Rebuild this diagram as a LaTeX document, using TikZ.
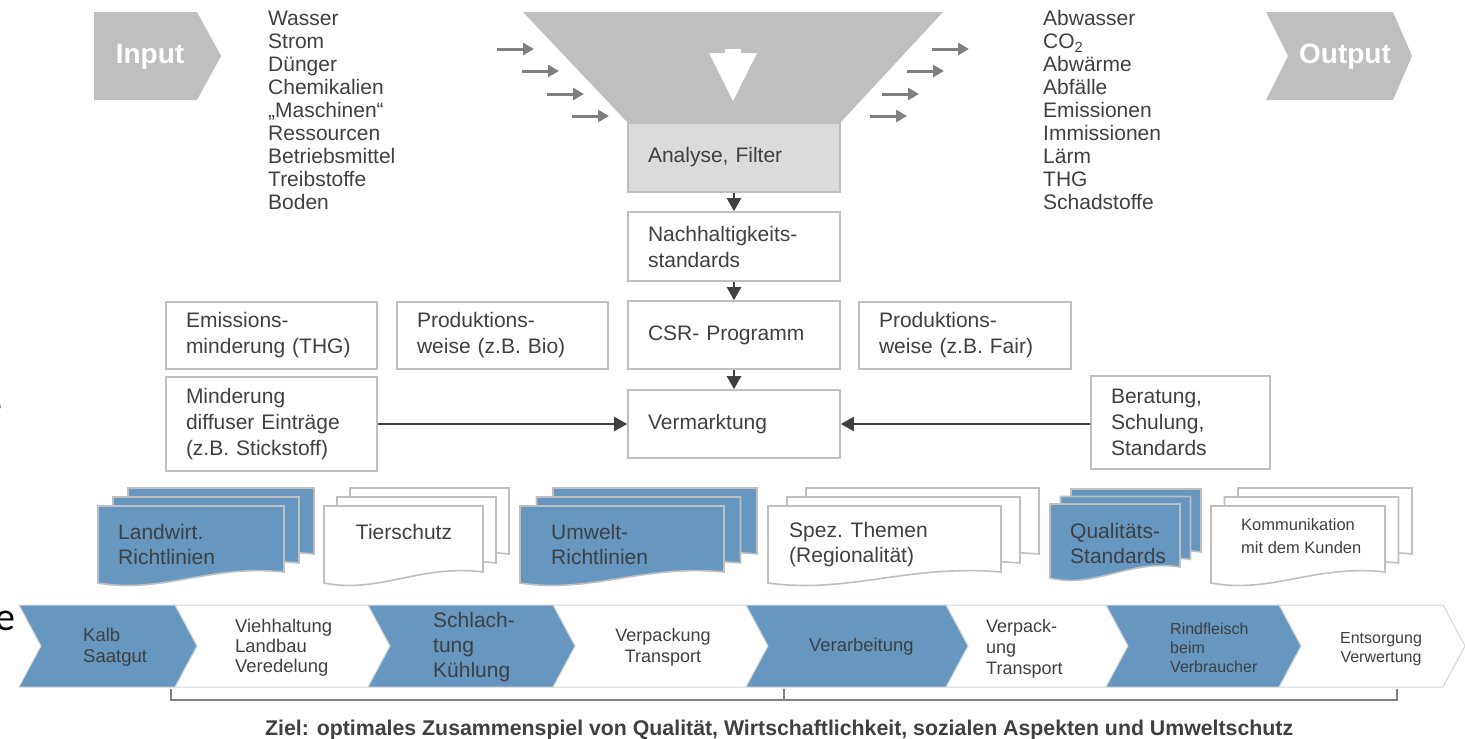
\documentclass[tikz,border=0pt]{standalone}
\usepackage{fontspec}
\setmainfont{Liberation Sans}
\newfontfamily\carl{Carlito}
\usetikzlibrary{arrows.meta}
\definecolor{txt}{HTML}{404040}
\definecolor{boxline}{HTML}{BFBFBF}
\definecolor{funnelgray}{HTML}{BFBFBF}
\definecolor{anafill}{HTML}{DBDBDB}
\definecolor{blu}{HTML}{6597C1}
\definecolor{darkarr}{HTML}{404040}
\definecolor{lightarr}{HTML}{808080}
\definecolor{chevline}{HTML}{D6D6D6}
\newcommand\myfs[2]{\fontsize{#1}{#2}\selectfont}
\newcommand\docshape[5]{\path[#5] (#1,#2) -- ({#1+#3},#2) -- ({#1+#3},{#2+#4}) .. controls ({#1+0.6*#3},{#2+#4-8}) and ({#1+0.35*#3},{#2+#4+22}) .. (#1,{#2+#4+11}) -- cycle;}
\newcommand\docstack[7]{%
  \docshape{#1+2*#5}{#2-2*#6}{#3}{#4}{#7}%
  \docshape{#1+#5}{#2-#6}{#3}{#4}{#7}%
  \docshape{#1}{#2}{#3}{#4}{#7}}
\newcommand\chev[3]{\path[#3] (#1,605) -- (#2,605) -- ({#2+22},646) -- (#2,687) -- (#1,687) -- ({#1+22},646) -- cycle;}
\begin{document}
\begin{tikzpicture}[x=1pt,y=-1pt,
  bx/.style={draw=boxline, line width=1.6pt, fill=white, text=txt, font=\myfs{21}{26}, align=left, inner xsep=20pt, inner ysep=0pt},
  conn/.style={draw=darkarr, line width=2.2pt, -{Triangle[length=13pt,width=14pt]}},
  smallarr/.style={draw=lightarr, line width=3pt, -{Triangle[length=11pt,width=12pt]}},
  lst/.style={anchor=north west, align=left, text=txt, font=\myfs{21}{23}, inner sep=0pt},
  dtxt/.style={text=txt, font=\myfs{21}{25}, align=left, inner sep=0pt},
  ctxt/.style={text=txt, inner sep=0pt},
  docblue/.style={fill=blu, draw=boxline, line width=1.6pt},
  docwhite/.style={fill=white, draw=boxline, line width=1.6pt},
  chblue/.style={fill=blu, draw=chevline, line width=1pt},
  chwhite/.style={fill=white, draw=chevline, line width=1pt},
  brk/.style={draw=lightarr, line width=1.5pt}
]
\useasboundingbox (0,0) rectangle (1465,739);

% clipped text fragments at the left edge
\node[anchor=base east, inner sep=0pt, font=\carl\myfs{40}{40}] (frag1) at (3,418) {e};
\node[anchor=base east, inner sep=0pt, font=\carl\myfs{40}{40}] (frag2) at (16,630) {e};

% Input / Output
\fill[funnelgray] (94,12) -- (197,12) -- (221,56) -- (197,100) -- (94,100) -- cycle;
\node[text=white, font=\bfseries\myfs{28}{28}, inner sep=0pt] (input) at (150,57) {Input};
\fill[funnelgray] (1266,12) -- (1393,12) -- (1412,56) -- (1393,100) -- (1266,100) -- (1288,56) -- cycle;
\node[text=white, font=\bfseries\myfs{28}{28}, inner sep=0pt] (output) at (1345,57) {Output};

% lists
\node[lst] (inlist) at (268,10.5) {Wasser\\Strom\\Dünger\\Chemikalien\\„Maschinen“\\Ressourcen\\Betriebsmittel\\Treibstoffe\\Boden};
\node[lst] (outlist) at (1043,10.5) {Abwasser\\CO\textsubscript{2}\\Abwärme\\Abfälle\\Emissionen\\Immissionen\\Lärm\\THG\\Schadstoffe};

% funnel
\fill[funnelgray] (523,12) -- (943,12) -- (840,123) -- (628,123) -- cycle;
\fill[white] (709,53) -- (757,53) -- (733,101) -- cycle;
\fill[white] (725,49) rectangle (741,54);

% small arrows
\coordinate (la1) at (497,49); \coordinate (la1e) at (534,49);
\coordinate (la2) at (522,71); \coordinate (la2e) at (559,71);
\coordinate (la3) at (547,94); \coordinate (la3e) at (584,94);
\coordinate (la4) at (572,116); \coordinate (la4e) at (609,116);
\coordinate (ra1) at (932,49); \coordinate (ra1e) at (969,49);
\coordinate (ra2) at (907,71); \coordinate (ra2e) at (944,71);
\coordinate (ra3) at (882,94); \coordinate (ra3e) at (919,94);
\coordinate (ra4) at (870,116); \coordinate (ra4e) at (907,116);
\foreach \a in {la1,la2,la3,la4,ra1,ra2,ra3,ra4} {\draw[smallarr] (\a) -- (\a e);}

% central column
\node[bx, fill=anafill, text width=172pt, minimum height=69pt] (ana) at (734,157.5) {Analyse, Filter};
\node[bx, text width=172pt, minimum height=69pt] (nach) at (734,246.5) {Nachhaltigkeits-\\standards};
\node[bx, text width=172pt, minimum height=68pt] (csr) at (734,335) {CSR- Programm};
\node[bx, text width=172pt, minimum height=68pt] (verm) at (734,424) {Vermarktung};
\node[bx, text width=171pt, minimum height=67pt] (emis) at (271.5,335.5) {Emissions-\\minderung (THG)};
\node[bx, text width=171pt, minimum height=67pt] (bio) at (502.5,335.5) {Produktions-\\weise (z.B. Bio)};
\node[bx, text width=172pt, minimum height=67pt] (fair) at (965,335.5) {Produktions-\\weise (z.B. Fair)};
\node[bx, text width=171pt, minimum height=94pt] (mind) at (271.5,424) {Minderung\\diffuser Einträge\\(z.B. Stickstoff)};
\node[bx, text width=139pt, minimum height=93pt] (bera) at (1180.5,422.5) {Beratung,\\Schulung,\\Standards};

\draw[conn] (ana.south) -- (nach.north);
\draw[conn] (nach.south) -- (csr.north);
\draw[conn] (csr.south) -- (verm.north);
\draw[conn] (mind.east |- verm.west) -- (verm.west);
\draw[conn] (bera.west |- verm.east) -- (verm.east);

% document stacks
\docstack{98}{506}{186}{66}{15}{9}{docblue}
\docstack{324}{506}{159}{66}{13}{9}{docwhite}
\docstack{520}{506}{204}{66}{16.5}{9}{docblue}
\docstack{768}{506}{233}{66}{19}{9}{docwhite}
\docstack{1050}{504}{130}{63}{10.5}{7.5}{docblue}
\docstack{1211}{506}{174}{66}{13.5}{9}{docwhite}

\node[dtxt, anchor=west] (landw) at (118,544.5) {Landwirt.\\Richtlinien};
\node[dtxt, anchor=center] (tier) at (404,532) {Tierschutz};
\node[dtxt, anchor=west] (umw) at (551,544.5) {Umwelt-\\Richtlinien};
\node[dtxt, anchor=west] (spez) at (789,544.5) {Spez. Themen\\(Regionalität)};
\node[dtxt, anchor=west] (qual) at (1070,543) {Qualitäts-\\Standards};
\node[dtxt, anchor=west, font=\myfs{16.5}{23}] (komm) at (1241,536.5) {Kommunikation\\mit dem Kunden};

% chevron row
\chev{946}{1106}{chwhite}
\chev{1279}{1443}{chwhite}
\chev{553}{746}{chwhite}
\chev{175}{368}{chwhite}
\chev{19}{175}{chblue}
\chev{368}{553}{chblue}
\chev{746}{946}{chblue}
\chev{1106}{1279}{chblue}

\node[ctxt, anchor=west, align=left, font=\myfs{18.5}{21}] (c1) at (83,647) {Kalb\\Saatgut};
\node[ctxt, anchor=west, align=left, font=\myfs{18.4}{20}] (c2) at (235,648) {Viehhaltung\\Landbau\\Veredelung};
\node[ctxt, anchor=west, align=left, font=\myfs{21}{25}] (c3) at (433,647) {Schlach-\\tung\\Kühlung};
\node[ctxt, anchor=center, align=center, font=\myfs{18}{21}] (c4) at (663,647) {Verpackung\\Transport};
\node[ctxt, anchor=west, align=left, font=\myfs{18.4}{21}] (c5) at (809,647) {Verarbeitung};
\node[ctxt, anchor=west, align=left, font=\myfs{18}{21}] (c6) at (986,649) {Verpack-\\ung\\Transport};
\node[ctxt, anchor=west, align=left, font=\myfs{16}{19}] (c7) at (1170,648) {Rindfleisch\\beim\\Verbraucher};
\node[ctxt, anchor=center, align=center, font=\myfs{16}{19}] (c8) at (1381,649) {Entsorgung\\Verwertung};

% bracket
\coordinate (b1) at (171,689); \coordinate (b2) at (784,689); \coordinate (b3) at (1397,689);
\draw[brk] (b1) -- ++(0,11) -| (b3);
\draw[brk] (b2) -- ++(0,11);

\node[text=txt, font=\bfseries\myfs{21.3}{24}, anchor=base west, inner sep=0pt] (ziel) at (265,735) {Ziel: optimales Zusammenspiel von Qualität, Wirtschaftlichkeit, sozialen Aspekten und Umweltschutz};
\end{tikzpicture}
\end{document}
